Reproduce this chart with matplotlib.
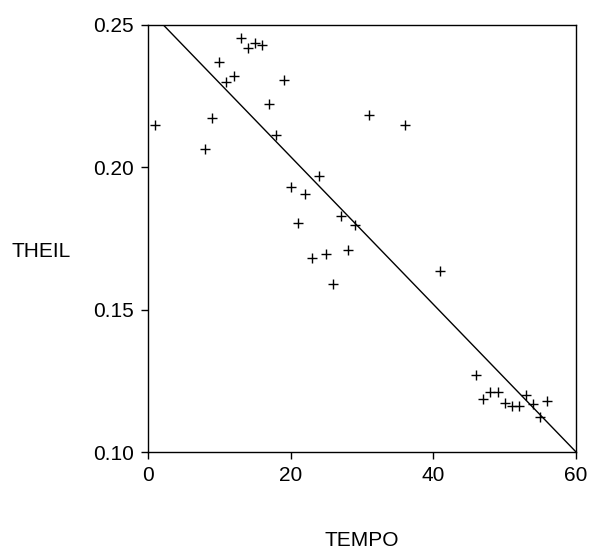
import numpy as np
import matplotlib
matplotlib.use("Agg")
import matplotlib.pyplot as plt

plt.rcParams['font.family'] = ['Liberation Sans', 'DejaVu Sans']

tempo = [1, 8, 9, 10, 11, 12, 13, 14, 15, 16, 17, 18, 19, 20, 21, 22, 23, 24,
         25, 26, 27, 28, 29, 31, 36, 41, 46, 47, 48, 49, 50, 51, 52, 53, 54,
         55, 56]
theil = [0.2149, 0.2064, 0.2172, 0.2370, 0.2299, 0.2322, 0.2455, 0.2420,
         0.2438, 0.2431, 0.2221, 0.2114, 0.2306, 0.1932, 0.1806, 0.1906,
         0.1680, 0.1970, 0.1696, 0.1590, 0.1830, 0.1710, 0.1797, 0.2184,
         0.2149, 0.1637, 0.1271, 0.1185, 0.1210, 0.1210, 0.1173, 0.1162,
         0.1160, 0.1200, 0.1168, 0.1124, 0.1179]

# fitted line
line_x = [0, 60]
intercept = 0.2556
slope = -0.002593

fig = plt.figure(figsize=(5.9, 5.52), dpi=100)
ax = fig.add_axes([148 / 590, 1 - 452 / 552, 428 / 590, 427 / 552])

ax.plot(tempo, theil, '+', color='k', markersize=7, markeredgewidth=1.0)
ax.plot(line_x, [intercept + slope * x for x in line_x], color='k', lw=1.0)

ax.set_xlim(0, 60)
ax.set_ylim(0.10, 0.25)
ax.set_xticks([0, 20, 40, 60])
ax.set_yticks([0.10, 0.15, 0.20, 0.25])
ax.set_yticklabels(['0.10', '0.15', '0.20', '0.25'])
ax.tick_params(direction='out', length=5, width=1, labelsize=15, pad=5)
for s in ax.spines.values():
    s.set_linewidth(1.0)

ax.set_xlabel('TEMPO', fontsize=15, va='center')
ax.xaxis.set_label_coords(0.5, -0.208)
ax.set_ylabel('THEIL', fontsize=15, rotation=0, va='center', ha='center')
ax.yaxis.set_label_coords(-0.250, 0.470)

fig.savefig('out.png', dpi=100)
